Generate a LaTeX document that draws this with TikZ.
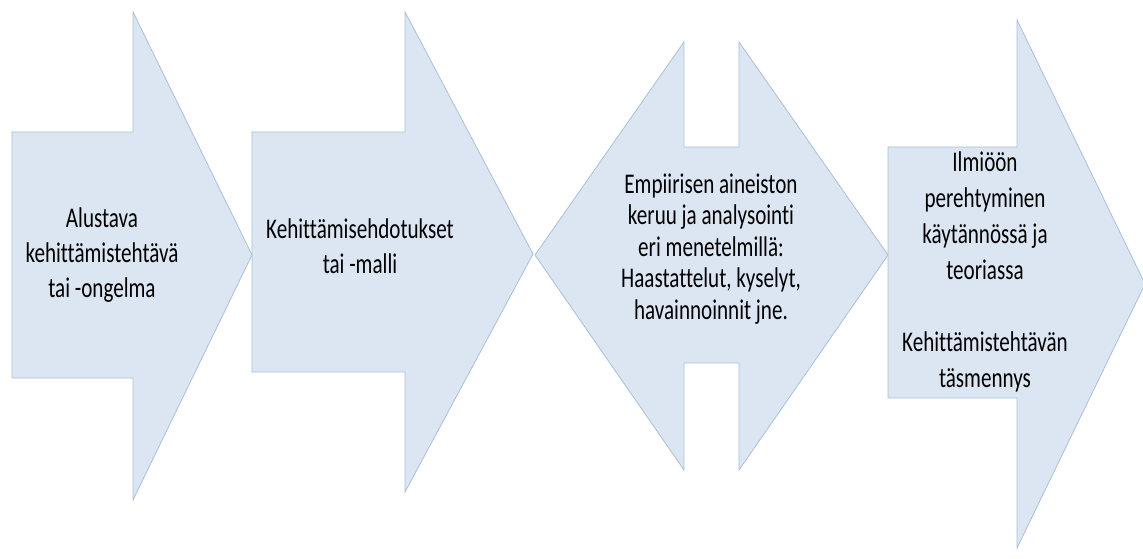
\documentclass[tikz,border=0pt]{standalone}
\usepackage{fontspec}
\setmainfont{Carlito}[Ligatures=NoCommon]
\definecolor{arrowfill}{HTML}{DCE6F2}
\definecolor{arrowline}{HTML}{ABBFD6}
\begin{document}
\begin{tikzpicture}[x=1pt,y=-1pt,
  blockarrow/.style={fill=arrowfill,draw=arrowline,line width=0.8pt,line join=miter},
  label/.style={align=center,text=black,inner sep=0pt,xscale=0.74,
    font=\fontsize{28.5}{35}\selectfont},
  labelsmall/.style={label,font=\fontsize{28.5}{31.5}\selectfont},
  labeltall/.style={label,font=\fontsize{28.5}{36}\selectfont}]
\useasboundingbox (0,0) rectangle (1143,559);

% step 1: right arrow
\draw[blockarrow] (12,132) -- (133,132) -- (133,12) -- (252,255) -- (133,500)
  -- (133,378) -- (12,378) -- cycle;
% step 2: right arrow
\draw[blockarrow] (252,132) -- (405,132) -- (405,12) -- (533,254) -- (405,492)
  -- (405,372) -- (252,372) -- cycle;
% step 3: left-right arrow
\draw[blockarrow] (535,255) -- (684,42) -- (684,147) -- (739,147) -- (739,42)
  -- (888,255) -- (739,470) -- (739,363) -- (684,363) -- (684,470) -- cycle;
% step 4: right arrow
\draw[blockarrow] (888,147) -- (1017,147) -- (1017,20) -- (1145,284) -- (1017,548)
  -- (1017,398) -- (888,398) -- cycle;

\node[label] (t1) at (102,255) {Alustava\\kehittämistehtävä\\tai -ongelma};
\node[label] (t2) at (360,246) {Kehittämisehdotukset\\tai -malli};
\node[labelsmall] (t3) at (711,249) {Empiirisen aineiston\\keruu ja analysointi\\eri menetelmillä:\\Haastattelut, kyselyt,\\havainnoinnit jne.};
\node[labeltall] (t4) at (985,272) {Ilmiöön\\perehtyminen\\käytännössä ja\\teoriassa\\[36pt]Kehittämistehtävän\\täsmennys};
\end{tikzpicture}
\end{document}
